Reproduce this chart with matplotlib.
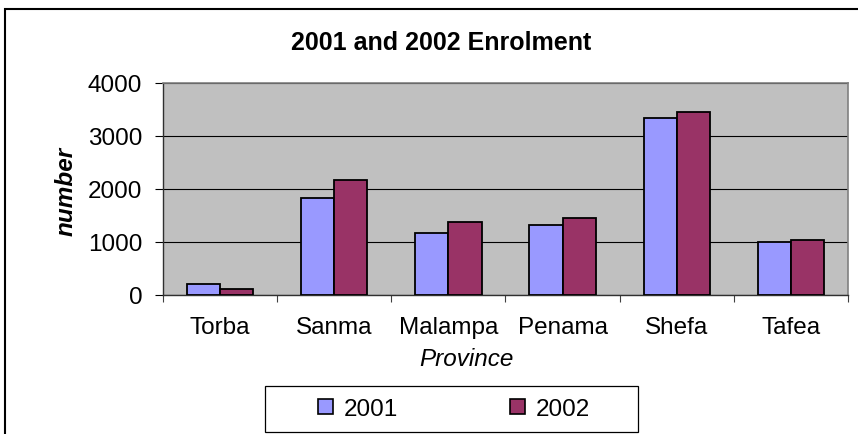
import numpy as np
import matplotlib.pyplot as plt
from matplotlib.patches import Patch, Rectangle

plt.rcParams['font.family'] = ['Liberation Sans', 'DejaVu Sans']

# data
provinces = ['Torba', 'Sanma', 'Malampa', 'Penama', 'Shefa', 'Tafea']
enrol_2001 = [200, 1830, 1165, 1330, 3335, 995]
enrol_2002 = [120, 2165, 1375, 1455, 3460, 1045]
series_names = ['2001', '2002']
colors = ['#9999FF', '#993366']

W, H = 858, 435
fig = plt.figure(figsize=(W / 100, H / 100), dpi=100)

# plot area in pixels: x 163..848, y 84..296
ax = fig.add_axes([163 / W, (H - 296) / H, 685 / W, 212 / H])
ax.set_facecolor('#C0C0C0')

x = np.arange(len(provinces))
bw = 0.29
ax.bar(x - bw / 2, enrol_2001, bw, color=colors[0], edgecolor='black',
       linewidth=1.3, zorder=3)
ax.bar(x + bw / 2, enrol_2002, bw, color=colors[1], edgecolor='black',
       linewidth=1.3, zorder=3)

ax.set_xlim(-0.5, len(provinces) - 0.5)
ax.set_ylim(0, 4000)
ax.set_yticks([0, 1000, 2000, 3000, 4000])
ax.yaxis.grid(True, color='black', linewidth=0.8, zorder=1)

# tick marks between categories, labels at centres
ax.set_xticks(np.arange(-0.5, len(provinces), 1.0))
ax.set_xticklabels([])
ax.set_xticks(x, minor=True)
ax.set_xticklabels(provinces, minor=True)
ax.tick_params(axis='x', which='major', length=5, width=0.8, color='#404040')
ax.tick_params(axis='x', which='minor', length=0, pad=15, labelsize=17.5)
ax.tick_params(axis='y', length=6, width=0.8, pad=9, labelsize=17.5)

for s in ['top', 'right']:
    ax.spines[s].set_color('#808080')
    ax.spines[s].set_linewidth(1.2)
for s in ['left', 'bottom']:
    ax.spines[s].set_color('#303030')
    ax.spines[s].set_linewidth(1.0)

fig.text(441 / W, 1 - 43 / H, '2001 and 2002 Enrolment', ha='center',
         va='center', fontsize=18, fontweight='bold')
fig.text(466 / W, 1 - 360 / H, 'Province', ha='center', va='center',
         fontsize=17.5, style='italic')
fig.text(66 / W, 1 - 191 / H, 'number', ha='center', va='center',
         fontsize=17.5, style='italic', fontweight='bold', rotation=90)

# legend: entries centred in a plain black box
handles = [Patch(facecolor=c, edgecolor='black', linewidth=1.2) for c in colors]
leg = fig.legend(handles, series_names, loc='center', ncol=2,
                 bbox_to_anchor=(454 / W, 1 - 410 / H), fontsize=17.5,
                 frameon=False, handlelength=0.62, handleheight=0.6,
                 handletextpad=0.45, columnspacing=4.6, borderpad=0,
                 borderaxespad=0)
fig.patches.append(Rectangle((265 / W, 1 - 433 / H), 373 / W, 46 / H,
                             transform=fig.transFigure, fill=False,
                             edgecolor='black', linewidth=0.9))

# chart area border (cropped on the right and bottom)
fig.patches.append(Rectangle((5 / W, -0.2), 2.0, 1.2 - 10 / H,
                             transform=fig.transFigure, fill=False,
                             edgecolor='black', linewidth=1.5))

fig.savefig('out.png', dpi=100)
